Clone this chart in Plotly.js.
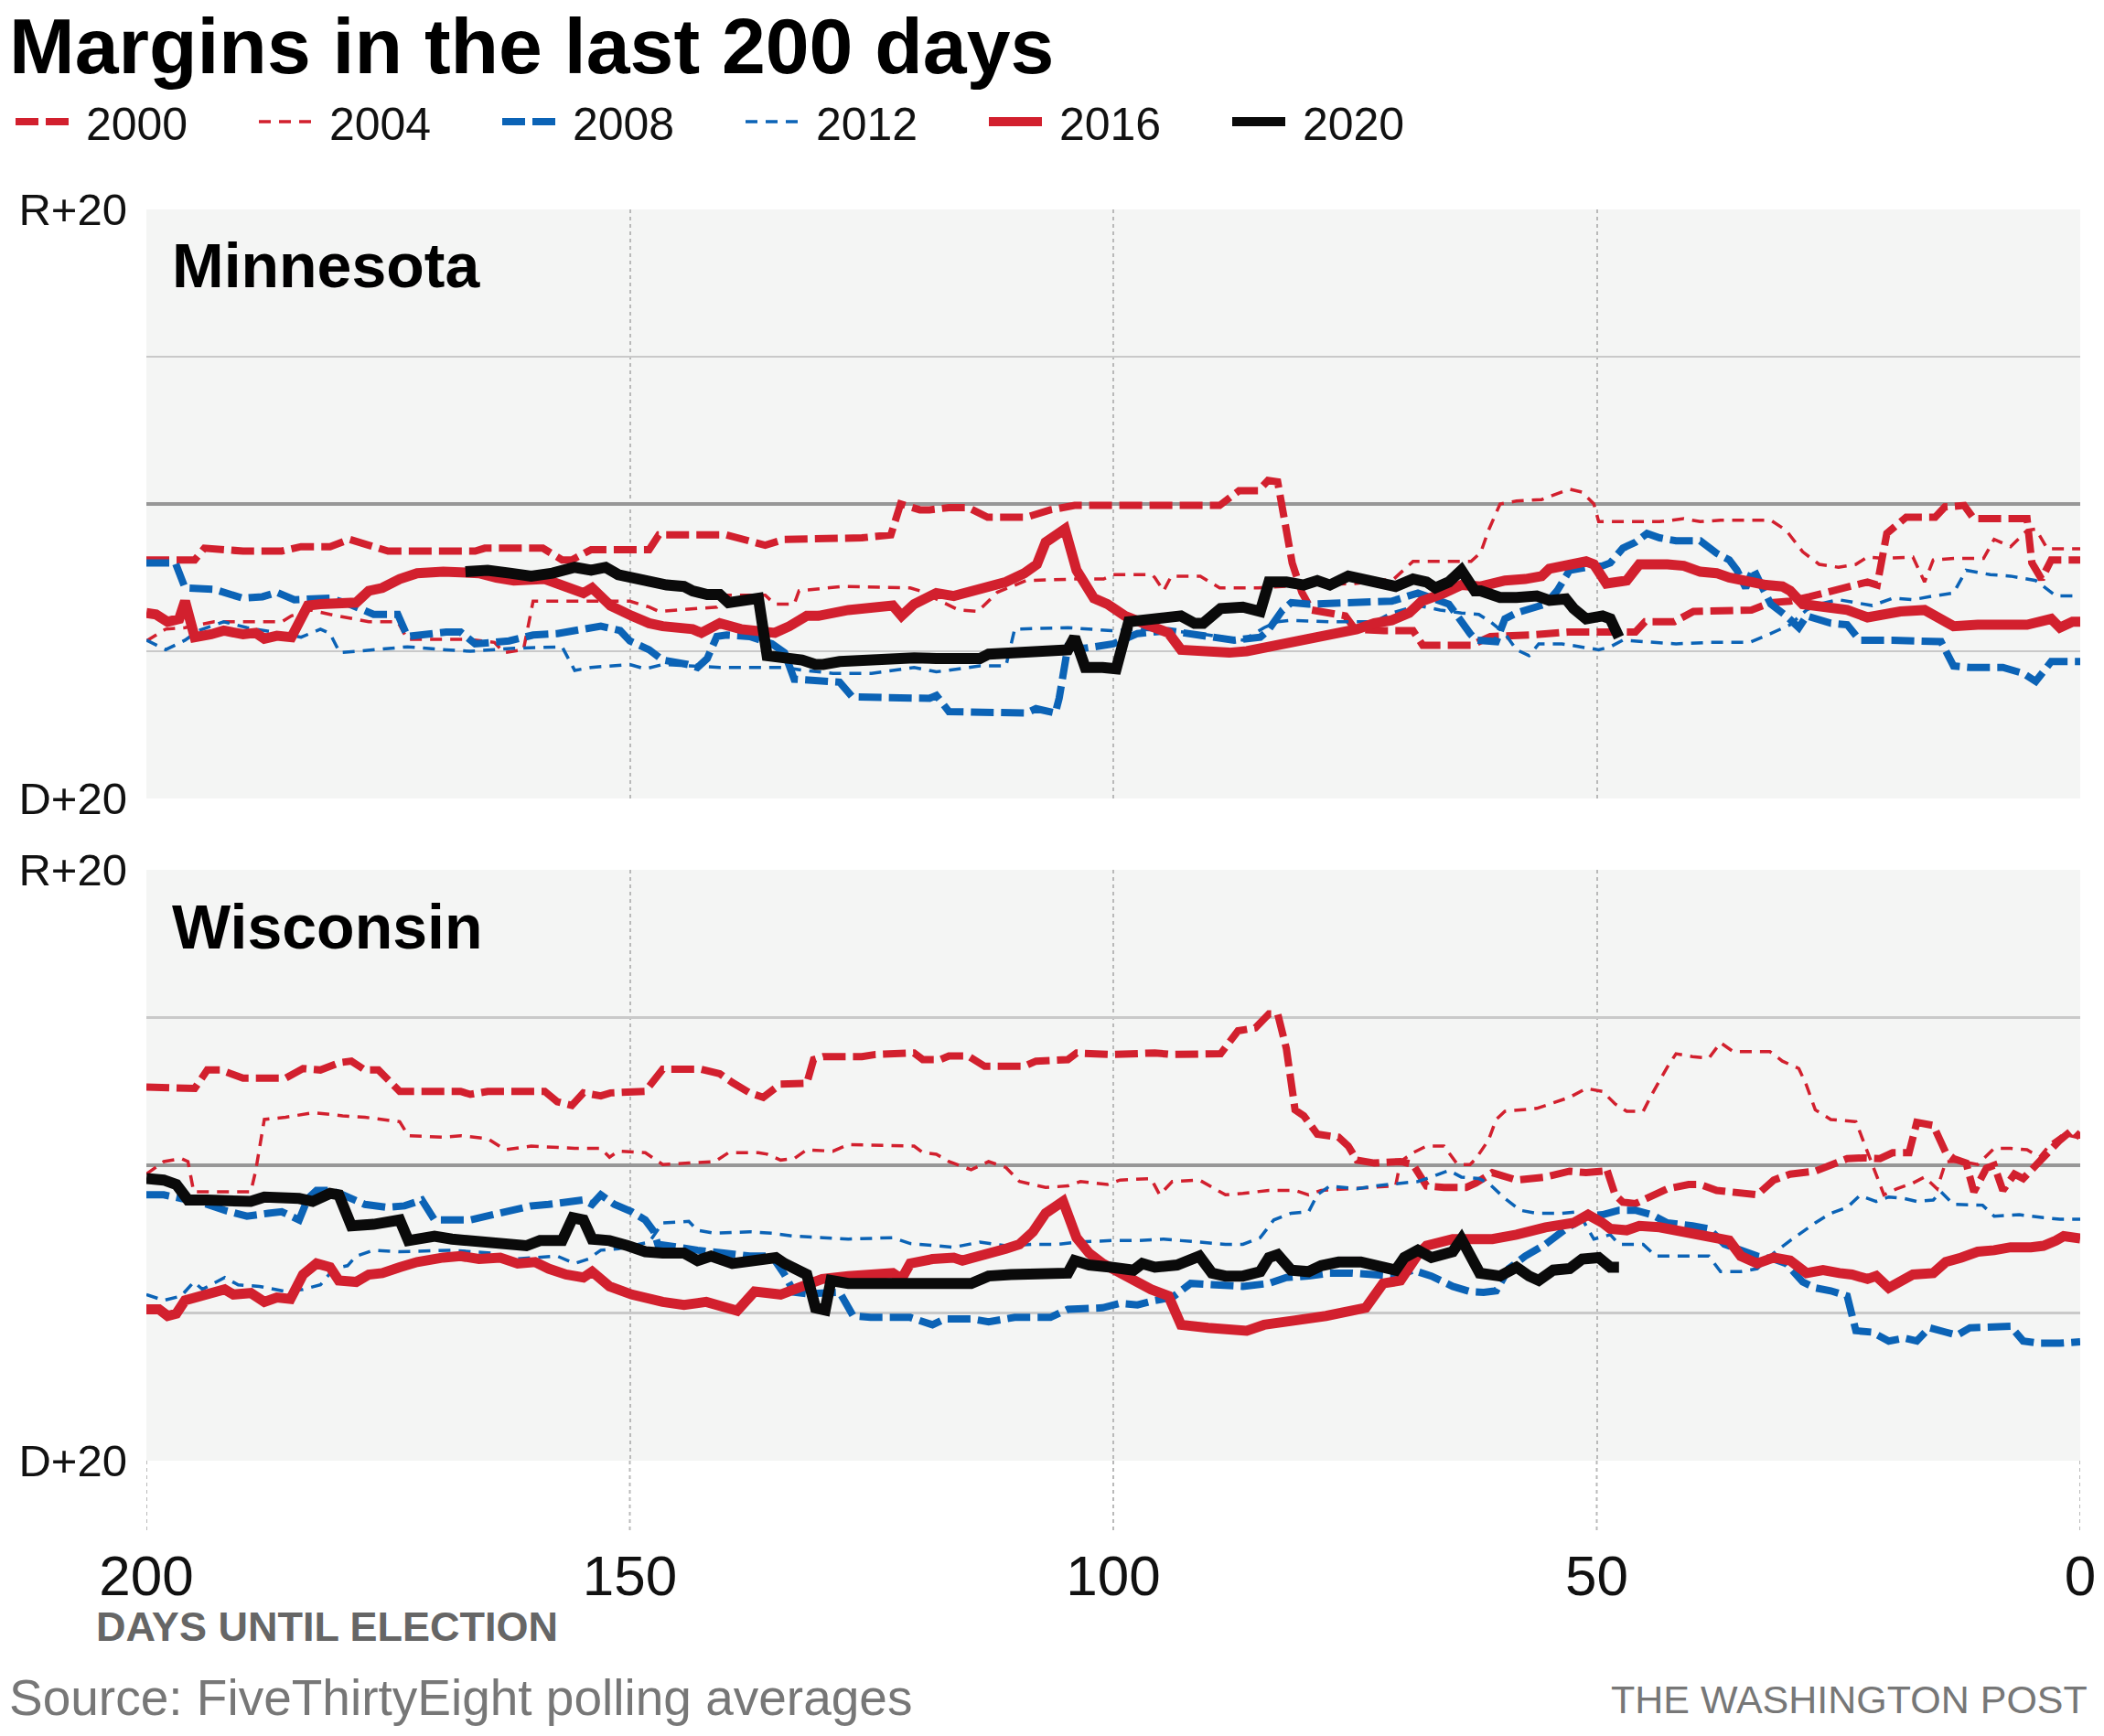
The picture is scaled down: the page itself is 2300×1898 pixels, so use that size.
<!DOCTYPE html>
<html><head><meta charset="utf-8">
<script src="https://cdn.plot.ly/plotly-3.0.1.min.js"></script>
<style>html,body{margin:0;padding:0;background:#fff}#chart{width:2300px;height:1898px}</style>
</head><body><div id="chart"></div>
<script>
// ---------- DATA: [days until election, margin (R positive, D negative)] ----------
const YEARS = ['2000','2004','2008','2012','2016','2020'];
const STATES = ['Minnesota','Wisconsin'];
const X_TICKS = [200,150,100,50,0];
const Y_TICKS = [-20,-10,0,10,20];
const Y_LABELS = ['D+20','','','','R+20'];

const MN_2000 = [[200,-3.8],[195,-3.8],[194,-3.0],[190,-3.2],[186,-3.2],[184,-2.9],[181,-2.9],[179,-2.4],[177,-2.8],[175,-3.2],[166,-3.2],[165,-3.0],[159,-3.0],[157,-3.8],[156,-3.8],[154,-3.1],[148,-3.1],[147,-2.1],[140,-2.1],[137,-2.6],[136,-2.8],[134,-2.4],[130,-2.4],[126,-2.3],[123,-2.1],[122,0.0],[120,-0.4],[119,-0.4],[117,-0.25],[115,-0.25],[113,-0.9],[109,-0.9],[106.5,-0.4],[104,-0.1],[89,-0.1],[87,0.9],[85,0.9],[84,1.6],[83,1.5],[81.5,-4.0],[80.5,-6.0],[79.5,-7.2],[76,-7.6],[75,-8.5],[72,-8.6],[69,-8.6],[68,-9.6],[63,-9.6],[61,-9.0],[59,-9.0],[57,-8.9],[53,-8.7],[46,-8.7],[45,-8.0],[42,-8.0],[40,-7.3],[34,-7.2],[32,-6.7],[30,-6.6],[28,-6.3],[22,-5.3],[21,-5.5],[20,-2.0],[18,-0.9],[15,-0.9],[14,-0.2],[12,-0.1],[11,-1.0],[5.5,-1.0],[5,-4.0],[4,-5.1],[3,-3.8],[0,-3.8]];
const MN_2004 = [[200,-9.3],[198,-8.5],[196,-8.4],[193,-8.0],[186,-8.0],[185,-7.6],[183,-7.2],[181,-7.5],[177,-8.0],[174,-8.0],[173,-9.2],[166.5,-9.2],[164,-9.4],[163,-10.1],[161,-9.9],[160.4,-8.0],[160,-6.6],[150,-6.6],[148,-7.0],[147,-7.3],[141,-7.0],[140,-6.2],[136,-6.2],[135,-6.8],[133,-6.8],[132.5,-5.9],[128,-5.6],[121,-5.7],[120,-5.9],[116,-7.2],[114,-7.3],[112,-6.0],[109,-5.2],[104,-5.1],[101,-5.1],[100,-4.8],[96,-4.8],[95.7,-5.0],[94.8,-5.9],[94,-4.9],[91,-4.9],[89,-5.7],[85,-5.7],[80,-5.5],[75,-5.4],[71,-5.1],[69,-3.9],[63,-3.9],[62,-3.3],[61.2,-1.8],[60,0.0],[58.3,0.2],[55.7,0.3],[54.5,0.6],[52.8,1.0],[51.5,0.8],[50.3,0.0],[49.8,-1.2],[43.5,-1.2],[41,-1.0],[39.3,-1.2],[37.2,-1.1],[32,-1.1],[30.4,-1.8],[28.7,-3.25],[27,-4.1],[25,-4.3],[23.2,-4.1],[22,-3.6],[20.3,-3.7],[17.3,-3.6],[16.1,-5.3],[15.2,-3.8],[13,-3.7],[10,-3.7],[8.9,-2.4],[7.2,-2.9],[5.5,-1.8],[4.6,-1.7],[3.4,-3.05],[0,-3.05]];
const MN_2008 = [[200,-4.0],[197,-4.0],[196,-5.7],[194.6,-5.7],[193,-5.8],[190,-6.4],[188,-6.3],[186.5,-6.0],[184.7,-6.5],[181,-6.4],[179,-6.8],[176.5,-7.5],[174,-7.5],[173,-9.0],[171,-8.8],[169,-8.7],[167.5,-8.7],[166,-9.5],[162.5,-9.3],[160,-8.9],[157.5,-8.8],[155.7,-8.6],[153,-8.3],[151,-8.6],[150,-9.3],[148,-9.9],[146.6,-10.6],[144,-10.9],[143,-11.1],[142,-10.5],[141,-9.0],[140,-8.9],[137.6,-9.0],[135.3,-9.5],[134,-10.1],[133,-11.9],[128.3,-12.1],[127,-13.1],[119,-13.2],[118.3,-13.0],[117,-14.1],[109,-14.2],[108,-13.9],[106,-14.2],[105.6,-13.2],[104.7,-9.7],[103,-9.8],[100,-9.5],[97.5,-8.8],[94.3,-8.6],[92,-8.8],[89.8,-9.05],[87.5,-9.25],[84.8,-9.05],[84,-8.6],[82.5,-7.2],[81.6,-6.7],[79.8,-6.8],[75.3,-6.7],[71.2,-6.6],[68.5,-6.05],[66.7,-6.4],[65.3,-6.8],[63.1,-8.8],[62.5,-9.25],[60.4,-9.35],[59.5,-7.8],[58.3,-7.4],[55.3,-6.8],[54.1,-5.9],[52.8,-4.5],[51.1,-4.3],[49.4,-4.2],[48.6,-4.0],[47.3,-3.0],[46,-2.6],[44.8,-2.0],[43.5,-2.3],[41.8,-2.5],[39.3,-2.5],[37.6,-3.35],[36.3,-3.8],[35.5,-4.5],[34.6,-5.7],[33.8,-4.4],[33,-5.5],[32,-6.8],[30.4,-7.6],[29.1,-8.4],[28.3,-7.6],[27.4,-7.8],[25.8,-8.1],[24.1,-8.2],[22.8,-9.25],[19.4,-9.25],[15.6,-9.35],[14.4,-9.35],[13.1,-11.0],[11.4,-11.1],[8,-11.1],[5.9,-11.5],[4.6,-12.05],[3,-10.7],[0,-10.7]];
const MN_2012 = [[200,-9.25],[198,-9.9],[196,-9.25],[194.6,-8.6],[192,-8.0],[189.6,-8.4],[186,-8.8],[184,-9.05],[182,-8.5],[181,-8.8],[180,-10.1],[176.5,-9.9],[173,-9.7],[169,-9.9],[166.5,-10.0],[162,-9.8],[157,-9.7],[155.7,-11.3],[154,-11.1],[150,-10.9],[148.4,-11.2],[146.6,-10.9],[140.7,-11.1],[134,-11.1],[132,-11.3],[129,-11.5],[125,-11.5],[120.6,-11.1],[118.3,-11.4],[113.8,-11.0],[111.1,-11.0],[110.2,-8.5],[106.5,-8.4],[104.7,-8.4],[100.2,-8.6],[97.5,-8.5],[94.3,-8.6],[91.1,-8.8],[86.6,-9.25],[84.4,-8.4],[83,-8.0],[81.6,-7.9],[77.6,-8.0],[73,-8.0],[71.2,-7.4],[68.5,-6.9],[66.2,-7.2],[64,-7.4],[62.2,-7.5],[61,-8.0],[59.5,-8.8],[58.3,-9.9],[57,-10.3],[56,-9.5],[53.6,-9.5],[51.5,-9.7],[49.8,-9.9],[48.6,-9.7],[47.3,-9.25],[45.2,-9.35],[41.8,-9.5],[38.4,-9.4],[34.2,-9.4],[32,-8.8],[30,-8.2],[28.3,-7.2],[27,-6.8],[25,-6.5],[23,-6.7],[21.5,-6.9],[19.4,-6.4],[17.3,-6.5],[15.2,-6.25],[13.1,-6.05],[11.8,-4.5],[9.3,-4.8],[7.2,-4.9],[4.6,-5.2],[2.5,-6.25],[0,-6.25]];
const MN_2016 = [[200,-7.4],[199,-7.5],[197.8,-8.0],[196.6,-7.8],[196,-6.6],[195,-9.05],[193.3,-8.85],[192,-8.6],[190,-8.85],[188.7,-8.75],[187.8,-9.15],[186.5,-8.95],[185,-9.05],[183.3,-6.9],[182,-6.8],[179.7,-6.7],[178.3,-6.7],[177,-5.9],[175.6,-5.7],[173.8,-5.1],[172,-4.7],[169.3,-4.6],[165.6,-4.7],[163.8,-5.0],[162,-5.2],[158.8,-5.1],[156.6,-5.7],[154.8,-6.05],[153.9,-5.7],[152,-6.9],[149.8,-7.6],[148,-8.1],[146.6,-8.3],[143.5,-8.5],[142.6,-8.75],[140.7,-8.1],[138.5,-8.5],[136.7,-8.6],[135,-8.75],[133.5,-8.3],[131.7,-7.6],[130.5,-7.6],[127.4,-7.2],[122.8,-6.9],[121.9,-7.6],[120.6,-6.8],[118.3,-6.05],[116.5,-6.25],[114.7,-5.9],[112.9,-5.7],[111.1,-5.3],[109.2,-4.7],[107.9,-4.1],[107,-2.6],[105,-1.7],[103.8,-4.5],[102,-6.4],[100.6,-6.8],[98.8,-7.6],[96.1,-8.3],[94.3,-8.75],[93,-9.9],[91.1,-10.0],[89.8,-10.1],[88,-10.1],[86.2,-10.0],[83.9,-9.7],[82.1,-9.5],[80.3,-9.25],[78.5,-8.95],[76.2,-8.6],[74.8,-8.5],[73,-8.1],[71.2,-7.9],[69.4,-7.4],[68.1,-6.6],[65.8,-6.05],[64,-5.5],[62,-5.6],[60.8,-5.4],[59.5,-5.2],[57.4,-5.1],[55.7,-4.9],[54.9,-4.4],[53.2,-4.2],[51.1,-3.9],[50.3,-4.1],[49,-5.4],[46.9,-5.2],[45.6,-4.1],[42.7,-4.1],[41,-4.2],[39.3,-4.6],[37.6,-4.7],[36.3,-5.0],[34.2,-5.3],[32.5,-5.5],[30.8,-5.6],[30,-5.9],[28.7,-6.8],[27,-6.9],[25.8,-7.1],[24.1,-7.2],[22,-7.7],[20.3,-7.5],[18.6,-7.3],[16.1,-7.2],[14.8,-7.6],[13.1,-8.3],[10.6,-8.2],[7.2,-8.3],[5.5,-8.2],[3,-7.8],[2.1,-8.4],[0.8,-8.0],[0,-8.0]];
const MN_2020 = [[167,-4.6],[164.7,-4.5],[162.4,-4.7],[160.2,-4.9],[158,-4.7],[155.7,-4.3],[154,-4.5],[152.5,-4.3],[151.2,-4.8],[149.4,-5.1],[148,-5.2],[146.2,-5.5],[144.4,-5.6],[143.5,-5.9],[142,-6.15],[140.7,-6.15],[139.8,-6.7],[137.6,-6.4],[136.7,-6.4],[135.8,-10.3],[134,-10.4],[132.2,-10.6],[130.8,-10.9],[130,-10.9],[128.3,-10.7],[126,-10.6],[123.7,-10.45],[120.6,-10.45],[118.3,-10.5],[113.8,-10.5],[112.9,-10.2],[109.2,-10.1],[107,-9.9],[104.7,-9.9],[104,-9.05],[102.9,-11.1],[101.1,-11.1],[99.7,-11.2],[98.4,-8.0],[97,-7.9],[94.8,-7.6],[93,-7.6],[91.6,-8.1],[90.7,-8.1],[88.9,-7.1],[86.6,-7.0],[84.8,-7.3],[83.9,-5.3],[82.1,-5.3],[80.3,-5.5],[78.9,-5.2],[77.6,-5.5],[75.7,-4.9],[73.9,-5.2],[72.1,-5.4],[70.8,-5.6],[69,-5.1],[67.6,-5.3],[66.7,-5.7],[65.3,-5.3],[64,-4.5],[62.6,-5.9],[62,-5.9],[60,-6.35],[58.3,-6.35],[56.2,-6.25],[54.9,-6.55],[53.2,-6.45],[52.4,-7.1],[51.1,-7.8],[49.4,-7.6],[48.6,-7.8],[47.7,-9.05]];

const WI_2000 = [[200,5.3],[195,5.2],[193.7,6.45],[192.3,6.45],[190,5.9],[185.6,5.9],[183.8,6.55],[182,6.45],[180,6.95],[178.8,7.05],[177.4,6.45],[176,6.45],[173.8,5.0],[167.5,5.0],[166.5,4.8],[164.7,5.0],[158.8,5.0],[157.5,4.3],[156,4.05],[154.8,4.9],[153,4.7],[152,4.9],[148.4,5.0],[146.6,6.5],[142.6,6.5],[140.7,6.2],[139.4,5.6],[137.6,4.9],[136.2,4.6],[134.4,5.5],[131.7,5.55],[131,7.15],[130,7.35],[126,7.35],[124.6,7.5],[121.5,7.55],[120.6,7.6],[119.7,7.15],[117.9,7.15],[117,7.4],[115,7.4],[113.3,6.7],[109.2,6.7],[108,7.05],[104.7,7.15],[103.8,7.6],[100.2,7.5],[95.7,7.6],[93.9,7.5],[88.9,7.55],[87.1,9.1],[85.3,9.3],[83.9,10.25],[83,10.25],[82.1,7.9],[81.2,3.75],[80.3,3.35],[78.9,2.1],[76.7,1.9],[75.7,1.3],[74.8,0.35],[73,0.15],[70.3,0.25],[69,0.05],[67.6,-1.4],[65.8,-1.5],[63.5,-1.5],[62.5,-1.2],[60.8,-0.5],[58.3,-1.0],[55.3,-0.8],[52.8,-0.4],[51.1,-0.5],[49.4,-0.4],[49,-0.2],[48.1,-2.0],[47.3,-2.5],[46,-2.6],[44.3,-2.1],[42.7,-1.6],[40.5,-1.3],[39.3,-1.3],[37.6,-1.7],[35.9,-1.8],[33.4,-2.0],[31.7,-1.0],[30,-0.6],[27.4,-0.4],[25.8,0.05],[24.1,0.45],[22.4,0.5],[20.7,0.45],[19.4,0.85],[17.7,0.85],[16.9,2.9],[15.2,2.7],[13.9,0.85],[13.1,0.45],[11.8,0.15],[11,-1.8],[9.7,-0.2],[8.9,0.0],[8,-1.7],[6.8,-0.6],[5.9,-0.9],[4.6,0.0],[3.4,0.85],[2.1,1.7],[0.8,2.4],[0,1.9]];
const WI_2004 = [[200,-0.6],[198.2,0.25],[196.4,0.45],[195.7,0.25],[195.1,-1.8],[189.2,-1.8],[188.7,-0.4],[187.8,3.1],[185.6,3.25],[182.8,3.55],[181,3.45],[179.7,3.35],[177.4,3.25],[173.8,2.95],[172.9,2.0],[169.3,1.9],[167.5,2.0],[164.7,1.8],[162.9,1.05],[160.2,1.3],[155.7,1.15],[153,1.15],[152.1,0.55],[151.2,0.95],[148.4,0.85],[146.6,0.05],[143.9,0.15],[141.2,0.25],[139.8,0.85],[136.7,0.85],[135.8,0.75],[134.4,0.35],[133,0.45],[131.7,1.05],[129,0.95],[127.4,1.4],[120.6,1.3],[119.7,0.85],[118.3,0.75],[117,0.25],[114.7,-0.3],[112.9,0.25],[111.1,-0.15],[109.7,-1.1],[107,-1.5],[104.7,-1.4],[103.4,-1.1],[100.6,-1.3],[99.3,-1.0],[96.1,-0.9],[95.2,-2.0],[93.9,-1.1],[91.1,-1.0],[88.4,-2.0],[86.6,-1.9],[83.9,-1.7],[81.2,-1.7],[79.8,-2.0],[78.5,-1.7],[75.7,-1.6],[72.1,-1.5],[70.8,-1.4],[70.3,0.25],[69,0.85],[67.6,1.3],[65.8,1.3],[64.4,0.05],[63.1,0.05],[62.5,0.45],[61.2,1.7],[60.4,3.1],[59.5,3.65],[56.2,3.85],[54.5,4.2],[52.8,4.6],[51.1,5.2],[49.4,5.0],[48.1,4.15],[46.9,3.65],[45.2,3.65],[44.3,4.8],[42.7,6.65],[41.8,7.55],[40.1,7.35],[38.4,7.25],[37.2,8.3],[35.9,7.7],[32.1,7.7],[30.8,7.05],[29.1,6.55],[28.3,5.4],[27.4,3.75],[25.8,3.1],[23.2,2.95],[22,0.85],[20.3,-2.0],[19,-1.6],[17.3,-1.2],[16.1,-0.8],[14.8,-1.6],[13.9,0.25],[12.2,0.25],[10.6,0.05],[8.9,1.15],[7.2,1.15],[5.5,1.05],[4.2,0.55],[3,1.5],[1.7,2.1],[0.4,1.9],[0,1.9]];
const WI_2008 = [[200,-2.0],[198.2,-2.0],[196.4,-2.25],[194.6,-2.45],[191.9,-3.05],[189.6,-3.45],[187.4,-3.25],[186,-3.15],[184.2,-3.7],[183.3,-2.25],[182.4,-1.7],[181,-1.7],[179.7,-2.0],[177.4,-2.65],[175.1,-2.85],[173.3,-2.75],[171.5,-2.35],[170.2,-3.7],[166.5,-3.7],[164.7,-3.45],[162.5,-3.15],[160.2,-2.75],[158.4,-2.65],[156.6,-2.45],[154.8,-2.35],[153.9,-2.65],[153,-2.0],[151.6,-2.65],[149.8,-3.15],[148.4,-3.7],[147.5,-4.5],[147.1,-5.35],[145.3,-5.55],[143,-5.75],[140.3,-5.95],[137.6,-6.15],[135.3,-6.15],[134,-7.4],[133,-8.6],[131.7,-8.7],[128.3,-8.6],[126.9,-10.2],[125.1,-10.3],[121,-10.3],[118.7,-10.8],[117.4,-10.4],[114.7,-10.4],[112.9,-10.6],[110.2,-10.3],[106.5,-10.3],[104.7,-9.75],[101.1,-9.65],[99.3,-9.35],[97.5,-9.45],[95.7,-9.15],[93.9,-8.95],[92,-8.0],[89.3,-8.1],[86.6,-8.2],[83.9,-8.0],[82.1,-7.6],[79.8,-7.5],[77.6,-7.3],[75.3,-7.3],[73,-7.4],[70.8,-7.5],[69,-7.1],[67.1,-7.5],[64.9,-8.2],[63.1,-8.55],[61.7,-8.6],[60.4,-8.5],[59.1,-7.0],[57.4,-6.15],[55.3,-5.35],[53.2,-4.3],[51.1,-3.45],[49.4,-3.35],[47.7,-3.05],[46,-3.05],[44.3,-3.35],[42.7,-3.9],[40.1,-4.1],[38.4,-4.3],[36.8,-5.35],[35.1,-5.75],[33.4,-6.15],[31.7,-6.35],[30.4,-6.65],[28.7,-7.9],[27.4,-8.3],[25.8,-8.5],[24.1,-8.85],[23.2,-11.2],[21.5,-11.3],[19.8,-11.9],[18.2,-11.7],[16.9,-11.9],[15.6,-11.0],[13.9,-11.3],[12.7,-11.5],[11.4,-11.0],[9.7,-11.0],[7.2,-10.9],[5.9,-11.9],[4.2,-12.05],[2.1,-12.05],[0,-11.95]];
const WI_2012 = [[200,-8.75],[198.2,-9.15],[196.4,-8.85],[195.1,-7.9],[194.2,-8.4],[191.9,-7.6],[190.5,-8.1],[188.3,-8.2],[185.6,-8.55],[183.8,-8.4],[182,-8.1],[180.6,-7.0],[179.2,-6.8],[178.3,-6.15],[176.5,-5.75],[173.8,-5.85],[168.4,-5.75],[164.3,-5.95],[162,-6.35],[157.5,-6.15],[155.7,-6.65],[154.3,-6.35],[153,-5.75],[151.2,-5.65],[148,-5.2],[146.6,-3.9],[143.9,-3.8],[143,-4.4],[141.2,-4.6],[137.6,-4.5],[135.3,-4.6],[133,-4.8],[130,-4.9],[127.4,-5.0],[122.8,-4.9],[121,-5.3],[118.3,-5.45],[116.5,-5.55],[113.8,-5.2],[111.1,-5.45],[108.3,-5.35],[105.6,-5.35],[103.8,-5.2],[100.2,-5.1],[97.5,-5.1],[94.8,-5.0],[93,-5.1],[91.1,-5.2],[88.4,-5.35],[86.6,-5.35],[84.8,-4.9],[83.4,-3.7],[81.6,-3.25],[79.8,-3.15],[78.9,-2.0],[77.6,-1.4],[74.8,-1.6],[73,-1.4],[70.3,-1.2],[68.5,-1.1],[66.7,-0.7],[65.3,-0.35],[64,-0.8],[62.2,-0.9],[61.2,-1.2],[59.5,-2.25],[57.9,-3.05],[56.2,-3.25],[53.6,-3.25],[51.9,-3.15],[51.1,-4.1],[50.3,-5.0],[48.6,-4.7],[47.7,-5.35],[45.2,-5.35],[43.9,-6.15],[38.4,-6.15],[37.2,-7.2],[35.1,-7.2],[33.4,-7.0],[31.7,-5.95],[30,-5.1],[27.4,-3.9],[25.8,-3.25],[24.1,-2.85],[22.8,-2.05],[21.1,-2.45],[19.8,-2.15],[18.2,-2.25],[16.9,-2.45],[15.2,-2.35],[14.4,-1.8],[13.1,-2.65],[10.1,-2.7],[8.9,-3.45],[6.3,-3.35],[3.8,-3.55],[2.1,-3.65],[0,-3.65]];
const WI_2016 = [[200,-9.75],[198.7,-9.75],[197.8,-10.2],[196.9,-10.05],[196,-9.15],[194.6,-8.95],[193.3,-8.65],[191.9,-8.4],[191,-8.75],[189.2,-8.65],[187.8,-9.25],[186.5,-8.95],[185.1,-9.05],[183.8,-7.4],[182.4,-6.65],[181,-6.9],[180.1,-7.8],[178.3,-7.9],[177,-7.4],[175.6,-7.3],[173.8,-6.9],[172,-6.55],[169.3,-6.25],[167.5,-6.15],[165.6,-6.35],[163.4,-6.25],[161.6,-6.65],[159.8,-6.55],[158.4,-7.0],[156.6,-7.4],[154.8,-7.6],[153.9,-7.2],[152.1,-8.2],[149.8,-8.75],[146.6,-9.25],[144.4,-9.45],[142.1,-9.25],[140.3,-9.55],[138.9,-9.85],[137.1,-8.55],[134.4,-8.75],[132.6,-8.3],[130.1,-7.7],[127.4,-7.5],[122.8,-7.3],[121.9,-7.7],[121,-6.65],[118.7,-6.35],[116.5,-6.25],[115.6,-6.45],[113.3,-5.95],[111.1,-5.65],[109.7,-5.35],[108.3,-4.5],[107,-3.25],[105.2,-2.45],[103.8,-4.9],[102.5,-5.95],[101.1,-6.65],[99.3,-7.3],[97.5,-7.9],[96.1,-8.4],[94.3,-8.85],[93,-10.8],[90.2,-11.0],[88,-11.1],[86.2,-11.2],[84.4,-10.8],[83,-10.6],[81.2,-10.5],[78,-10.2],[75.3,-9.85],[73.9,-9.65],[72.1,-8.0],[70.3,-7.8],[68.5,-6.05],[67.6,-5.45],[64.9,-5.0],[60.8,-5.0],[58.3,-4.7],[55.3,-4.2],[52.4,-3.9],[50.9,-3.35],[49.4,-3.9],[48.6,-4.3],[46.9,-4.4],[45.6,-4.1],[43.5,-4.2],[41,-4.5],[39.3,-4.8],[37.6,-4.9],[36.3,-5.1],[35.1,-6.15],[33.4,-6.65],[31.7,-6.25],[30,-6.45],[28.3,-7.3],[26.6,-7.1],[24.9,-7.3],[23.6,-7.4],[22,-7.7],[21.1,-7.5],[19.8,-8.3],[18.6,-7.9],[17.3,-7.4],[15.2,-7.3],[13.9,-6.55],[12.3,-6.25],[10.6,-5.85],[8.9,-5.75],[7.2,-5.55],[5.1,-5.55],[3.8,-5.45],[2.5,-5.1],[1.7,-4.8],[0,-4.95]];
const WI_2020 = [[200,-0.9],[198.2,-1.0],[196.9,-1.3],[195.7,-2.35],[193.7,-2.35],[191.9,-2.4],[189.2,-2.45],[187.8,-2.15],[185.6,-2.15],[184.2,-2.25],[182.8,-2.45],[181,-1.9],[180.1,-2.0],[178.8,-4.1],[176.5,-4.0],[174.2,-3.9],[173.8,-3.7],[172.9,-5.1],[170.2,-4.8],[168.4,-5.0],[166.5,-5.1],[163.8,-5.1],[162,-5.2],[160.7,-5.45],[159.3,-5.1],[157,-5.1],[155.9,-3.55],[154.8,-3.7],[153.9,-5.0],[152.1,-5.1],[150.2,-5.45],[148.4,-5.85],[146.6,-5.95],[144.4,-5.95],[143,-6.45],[141.6,-6.15],[139.4,-6.65],[137.6,-6.55],[134.9,-6.25],[134,-6.65],[132.6,-7.0],[131.7,-7.4],[130.8,-9.65],[129.8,-9.8],[129.2,-7.8],[127.4,-8.0],[114.7,-8.0],[112.9,-7.5],[110.6,-7.4],[107,-7.3],[104.7,-7.3],[104,-6.45],[102.5,-6.75],[100.2,-6.9],[97.9,-7.1],[97,-6.65],[95.7,-6.9],[93.4,-6.75],[92,-6.35],[91.1,-6.15],[89.8,-7.3],[88.4,-7.5],[86.6,-7.5],[84.8,-7.2],[83.9,-6.25],[83,-6.05],[81.6,-7.1],[79.8,-7.2],[78.5,-6.8],[76.7,-6.55],[74.4,-6.55],[73,-6.75],[70.8,-7.1],[69.9,-6.25],[68.5,-5.75],[67.1,-6.25],[65.8,-5.95],[64.9,-5.85],[64,-5.0],[63.1,-6.15],[62.1,-7.3],[60,-7.5],[58.3,-6.9],[57,-7.5],[56,-7.8],[54.5,-7.1],[52.8,-7.0],[51.5,-6.35],[49.8,-6.25],[48.6,-6.9],[47.7,-6.9]];

const SERIES = {
  Minnesota: [MN_2000, MN_2004, MN_2008, MN_2012, MN_2016, MN_2020],
  Wisconsin: [WI_2000, WI_2004, WI_2008, WI_2012, WI_2016, WI_2020]
};

// ---------- STYLE ----------
const RED = '#d2202e', BLUE = '#0b63b6', BLACK = '#0a0a0a';
const FONT = "'Liberation Sans', Arial, Helvetica, sans-serif";
const LINE = {
  '2000': {color: RED,   width: 8,   dash: '25px,8px'},
  '2004': {color: RED,   width: 3.5, dash: '13px,9px'},
  '2008': {color: BLUE,  width: 8,   dash: '25px,8px'},
  '2012': {color: BLUE,  width: 3.5, dash: '13px,9px'},
  '2016': {color: RED,   width: 11,  dash: 'solid'},
  '2020': {color: BLACK, width: 12,  dash: 'solid'}
};

const traces = [];
STATES.forEach((st, si) => {
  SERIES[st].forEach((pts, yi) => {
    const yr = YEARS[yi];
    traces.push({
      type: 'scatter', mode: 'lines', name: '\u00a0' + yr, legendgroup: yr,
      showlegend: si === 0,
      x: pts.map(p => p[0]), y: pts.map(p => p[1]),
      xaxis: si === 0 ? 'x' : 'x2', yaxis: si === 0 ? 'y' : 'y2',
      line: Object.assign({shape: 'linear'}, LINE[yr]),
      hoverinfo: 'skip'
    });
  });
});

const H = 1898, W = 2300;
const TOP = 229, BOT = 1597, PLOT_H = BOT - TOP;
const py = px => (BOT - px) / PLOT_H;   // pixel row -> paper y
const pxX = px => (px - 160) / (W - 160 - 26);

const xBase = {
  range: [200, 0], tickvals: X_TICKS, showgrid: true, gridcolor: '#b9b9b9', gridwidth: 2,
  griddash: '4px,4px', zeroline: false, showline: false, ticks: '', fixedrange: true
};
const yBase = {
  range: [-20, 20], tickvals: Y_TICKS, ticktext: Y_LABELS, showgrid: true, gridcolor: '#c9c9c9',
  gridwidth: 2.5, zeroline: true, zerolinecolor: '#979797', zerolinewidth: 4, showline: false,
  ticks: '', ticklabelstandoff: 20, tickfont: {family: FONT, size: 49, color: '#111'}, fixedrange: true
};

const layout = {
  width: W, height: H,
  margin: {l: 160, r: 26, t: TOP, b: H - BOT, pad: 0},
  paper_bgcolor: '#ffffff', plot_bgcolor: '#f4f5f4',
  font: {family: FONT, color: '#111'},
  title: {text: 'Margins in the last 200 days', x: 10 / W, xanchor: 'left', xref: 'container',
          y: 1 - 50 / H, yanchor: 'middle', yref: 'container',
          font: {family: FONT, size: 86, weight: 'bold', color: '#000'}},
  showlegend: true,
  legend: {orientation: 'h', x: pxX(12), xanchor: 'left', y: py(133), yanchor: 'middle',
           font: {family: FONT, size: 50, color: '#111'}, entrywidth: 193, entrywidthmode: 'pixels',
           itemwidth: 58, bgcolor: 'rgba(0,0,0,0)', traceorder: 'normal'},
  xaxis: Object.assign({}, xBase, {anchor: 'y', showticklabels: false}),
  xaxis2: Object.assign({}, xBase, {anchor: 'y2', showticklabels: true, ticklabelstandoff: 84,
           tickfont: {family: FONT, size: 62, color: '#111'}}),
  yaxis: Object.assign({}, yBase, {domain: [py(873), 1], anchor: 'x'}),
  yaxis2: Object.assign({}, yBase, {domain: [0, py(951)], anchor: 'x2'}),
  shapes: X_TICKS.map(t => ({type: 'line', xref: 'x2', yref: 'paper', x0: t, x1: t, y0: 0, y1: py(1673),
           line: {color: '#b9b9b9', width: 2, dash: '4px,4px'}, layer: 'below'})),
  annotations: [
    {text: '<b>Minnesota</b>', xref: 'paper', yref: 'paper', x: pxX(186), y: py(290), xanchor: 'left', yanchor: 'middle',
     showarrow: false, font: {family: FONT, size: 68, color: '#000'}},
    {text: '<b>Wisconsin</b>', xref: 'paper', yref: 'paper', x: pxX(186), y: py(1013), xanchor: 'left', yanchor: 'middle',
     showarrow: false, font: {family: FONT, size: 68, color: '#000'}},
    {text: '<b>DAYS UNTIL ELECTION</b>', xref: 'paper', yref: 'paper', x: pxX(103), y: py(1778), xanchor: 'left', yanchor: 'middle',
     showarrow: false, font: {family: FONT, size: 45, color: '#666'}},
    {text: 'Source: FiveThirtyEight polling averages', xref: 'paper', yref: 'paper', x: pxX(8), y: py(1856), xanchor: 'left', yanchor: 'middle',
     showarrow: false, font: {family: FONT, size: 55, color: '#777'}},
    {text: 'THE WASHINGTON POST', xref: 'paper', yref: 'paper', x: pxX(2284), y: py(1858), xanchor: 'right', yanchor: 'middle',
     showarrow: false, font: {family: FONT, size: 43, color: '#777'}}
  ]
};

Plotly.newPlot('chart', traces, layout, {displayModeBar: false, staticPlot: true});
</script>
</body></html>
